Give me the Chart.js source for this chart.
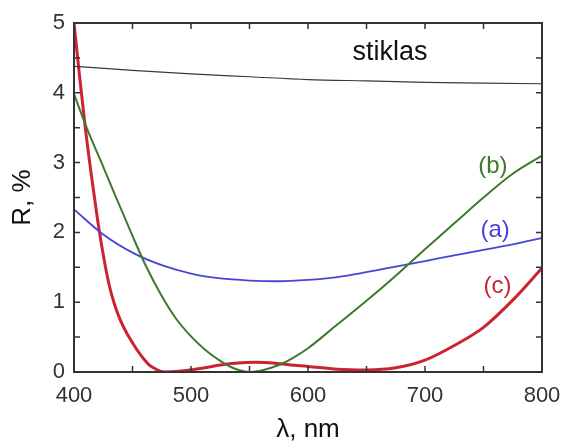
<!DOCTYPE html>
<html>
<head>
<meta charset="utf-8">
<script src="https://cdn.jsdelivr.net/npm/chart.js@4/dist/chart.umd.min.js"></script>
<style>
  body { margin: 0; background: #fff; }
  #wrap { width: 564px; height: 445px; }
</style>
</head>
<body>
<div id="wrap"><canvas id="spectrum"></canvas></div>
<script>
// reflectance spectra, R (%) vs wavelength (nm)
const glassNm = [400, 450, 500, 550, 600, 650, 700, 750, 800]
const glassR = [4.38, 4.32, 4.27, 4.23, 4.19, 4.17, 4.15, 4.14, 4.13]

const aNm = [400, 425, 450, 475, 500, 525, 550, 575, 600, 625, 650, 675, 700, 725, 750, 775, 800]
const aR = [2.33, 1.97, 1.71, 1.53, 1.41, 1.34, 1.31, 1.30, 1.32, 1.36, 1.43, 1.51, 1.59, 1.67, 1.75, 1.83, 1.92]

const bNm = [400, 412, 425, 437, 450, 462, 475, 487, 500, 512, 525, 537, 550, 562, 575, 587, 600, 625, 650, 675, 700, 725, 750, 775, 800]
const bR = [3.98, 3.45, 2.94, 2.46, 1.95, 1.50, 1.09, 0.77, 0.51, 0.32, 0.16, 0.05, 0.00, 0.03, 0.10, 0.20, 0.34, 0.68, 1.02, 1.38, 1.76, 2.13, 2.50, 2.84, 3.10]

const cNm = [400, 405, 410, 415, 420, 425, 430, 435, 440, 445, 450, 455, 460, 465, 470, 477, 490, 500, 512, 525, 540, 555, 570, 585, 600, 625, 650, 675, 700, 725, 750, 775, 800]
const cR = [5.0, 4.2, 3.45, 2.8, 2.2, 1.68, 1.25, 0.95, 0.73, 0.56, 0.42, 0.29, 0.18, 0.09, 0.04, 0.0, 0.01, 0.03, 0.06, 0.10, 0.13, 0.14, 0.13, 0.10, 0.08, 0.04, 0.03, 0.06, 0.17, 0.38, 0.64, 1.03, 1.49]

// text labels placed in data units
const notes = [
  { text: 'stiklas', x: 670, y: 4.57, color: '#111', size: 27 },
  { text: '(b)', x: 758, y: 2.94, color: '#3d7a2e', size: 24 },
  { text: '(a)', x: 760, y: 2.03, color: '#4646d2', size: 24 },
  { text: '(c)', x: 762, y: 1.23, color: '#cc2233', size: 24 }
]

const pts = (xs, ys) => xs.map((x, i) => ({ x: x, y: ys[i] }))

const line = (data, color, width) => ({
  data: data,
  borderColor: color,
  borderWidth: width,
  pointRadius: 0,
  fill: false,
  cubicInterpolationMode: 'monotone'
})

const frameColor = '#333'
const fontFamily = '"Liberation Sans", Arial, sans-serif'

// box round the plot with inward ticks on every side
const framePlugin = {
  id: 'frame',
  afterDatasetsDraw(chart) {
    const ctx = chart.ctx
    const a = chart.chartArea
    const xs = chart.scales.x
    const ys = chart.scales.y
    const len = 6
    ctx.save()
    ctx.strokeStyle = frameColor
    ctx.lineWidth = 1.5
    ctx.beginPath()
    for (let v = 450; v < 800; v += 50) {
      const px = xs.getPixelForValue(v)
      ctx.moveTo(px, a.bottom); ctx.lineTo(px, a.bottom - len)
      ctx.moveTo(px, a.top); ctx.lineTo(px, a.top + len)
    }
    for (let v = 0.5; v < 5; v += 0.5) {
      const py = ys.getPixelForValue(v)
      ctx.moveTo(a.left, py); ctx.lineTo(a.left + len, py)
      ctx.moveTo(a.right, py); ctx.lineTo(a.right - len, py)
    }
    ctx.stroke()
    ctx.lineWidth = 2
    ctx.strokeRect(a.left, a.top, a.right - a.left, a.bottom - a.top)
    ctx.restore()
  },
  afterDraw(chart) {
    const ctx = chart.ctx
    const xs = chart.scales.x
    const ys = chart.scales.y
    ctx.save()
    ctx.textAlign = 'center'
    ctx.textBaseline = 'middle'
    notes.forEach(n => {
      ctx.font = n.size + 'px ' + fontFamily
      ctx.fillStyle = n.color
      ctx.fillText(n.text, xs.getPixelForValue(n.x), ys.getPixelForValue(n.y))
    })
    ctx.restore()
  }
}

new Chart(document.getElementById('spectrum'), {
  type: 'line',
  data: {
    datasets: [
      line(pts(glassNm, glassR), '#3a3a3a', 1.2),
      line(pts(bNm, bR), '#3d7a2e', 2),
      line(pts(aNm, aR), '#4646d2', 1.8),
      line(pts(cNm, cR), '#cc2233', 3)
    ]
  },
  options: {
    responsive: true,
    maintainAspectRatio: false,
    animation: false,
    layout: { padding: { top: 23, right: 22, left: 0, bottom: 0 } },
    plugins: { legend: { display: false }, tooltip: { enabled: false } },
    scales: {
      x: {
        type: 'linear',
        min: 400,
        max: 800,
        afterFit: s => {
          s.height = 73
          s.paddingLeft = 0
          s.paddingRight = 0
        },
        grid: { display: false, drawTicks: false },
        border: { display: false },
        ticks: {
          stepSize: 100,
          padding: 11,
          color: '#333',
          font: { family: fontFamily, size: 22 },
          maxRotation: 0
        },
        title: {
          display: true,
          text: 'λ, nm',
          color: '#111',
          font: { family: fontFamily, size: 26 },
          padding: { top: 0, bottom: 0 }
        }
      },
      y: {
        min: 0,
        max: 5,
        afterFit: s => {
          s.width = 74
          s.paddingTop = 0
          s.paddingBottom = 0
        },
        grid: { display: false, drawTicks: false },
        border: { display: false },
        ticks: {
          stepSize: 1,
          padding: 9,
          color: '#333',
          font: { family: fontFamily, size: 22 }
        },
        title: {
          display: true,
          text: 'R, %',
          color: '#111',
          font: { family: fontFamily, size: 26 },
          padding: { top: 7, bottom: 0 }
        }
      }
    }
  },
  plugins: [framePlugin]
})
</script>
</body>
</html>
